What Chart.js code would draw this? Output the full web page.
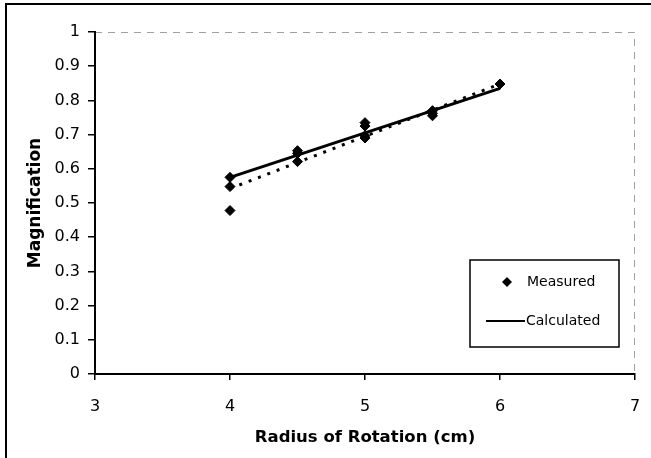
<!DOCTYPE html>
<html>
<head>
<meta charset="utf-8">
<script src="https://cdn.jsdelivr.net/npm/chart.js@4/dist/chart.umd.min.js"></script>
<style>
  html, body { margin: 0; padding: 0; background: #fff; }
  #wrap { width: 651px; height: 458px; position: relative; }
</style>
</head>
<body>
<div id="wrap"><canvas id="c" width="651" height="458"></canvas></div>
<script>
// Measured magnification at each radius of rotation (cm)
const measuredX = [4, 4, 4, 4.5, 4.5, 4.5, 5, 5, 5, 5, 5.5, 5.5, 5.5, 6];
const measuredY = [0.575, 0.548, 0.478, 0.653, 0.645, 0.621, 0.735, 0.725, 0.697, 0.69, 0.77, 0.762, 0.755, 0.848];

// Calculated magnification
const calcX = [4, 4.5, 5, 5.5, 6];
const calcY = [0.575, 0.64, 0.705, 0.77, 0.835];

// Linear fit through the measured points (end points)
const fitX = [4, 6];
const fitY = [0.542, 0.848];

// Axis ticks
const xTicks = [3, 4, 5, 6, 7];
const yTicks = ['0', '0.1', '0.2', '0.3', '0.4', '0.5', '0.6', '0.7', '0.8', '0.9', '1'];

const toPts = (xs, ys) => xs.map((x, i) => ({ x: x, y: ys[i] }));

const TICK_FONT = { family: 'DejaVu Sans', size: 16 };
const TITLE_FONT = { family: 'DejaVu Sans', size: 16.5, weight: 'bold' };

// Outer frame, dashed top/right plot edges and the boxed legend
const decor = {
  id: 'decor',
  beforeDraw(chart) {
    const ctx = chart.ctx;
    ctx.save();
    ctx.fillStyle = '#fff';
    ctx.fillRect(0, 0, chart.width, chart.height);
    ctx.strokeStyle = '#000';
    ctx.lineWidth = 2;
    ctx.beginPath();
    ctx.moveTo(6, chart.height);
    ctx.lineTo(6, 4);
    ctx.lineTo(chart.width, 4);
    ctx.stroke();
    const a = chart.chartArea;
    ctx.strokeStyle = '#a0a0a0';
    ctx.lineWidth = 1;
    ctx.setLineDash([7, 6]);
    ctx.beginPath();
    ctx.moveTo(a.left, a.top + 0.5);
    ctx.lineTo(a.right - 0.5, a.top + 0.5);
    ctx.lineTo(a.right - 0.5, a.bottom);
    ctx.stroke();
    ctx.restore();
  },
  afterDraw(chart) {
    const ctx = chart.ctx;
    const ds = chart.data.datasets;
    ctx.save();
    ctx.fillStyle = '#fff';
    ctx.fillRect(470, 260, 149, 87);
    ctx.strokeStyle = '#000';
    ctx.lineWidth = 1.5;
    ctx.strokeRect(470, 260, 149, 87);
    ctx.font = '14px "DejaVu Sans"';
    ctx.textBaseline = 'middle';
    ctx.fillStyle = '#000';
    // Measured entry: diamond marker
    const mx = 507, my = 282, r = 5;
    ctx.beginPath();
    ctx.moveTo(mx, my - r);
    ctx.lineTo(mx + r, my);
    ctx.lineTo(mx, my + r);
    ctx.lineTo(mx - r, my);
    ctx.closePath();
    ctx.fill();
    ctx.fillText(ds[0].label, 527, my);
    // Calculated entry: solid line
    ctx.lineWidth = 2;
    ctx.beginPath();
    ctx.moveTo(486, 321);
    ctx.lineTo(525, 321);
    ctx.stroke();
    ctx.fillText(ds[2].label, 526, 321);
    ctx.restore();
  }
};

new Chart(document.getElementById('c'), {
  type: 'scatter',
  data: {
    datasets: [
      {
        label: 'Measured',
        data: toPts(measuredX, measuredY),
        pointStyle: 'rectRot',
        pointRadius: 5,
        pointBackgroundColor: '#000',
        pointBorderColor: '#000',
        showLine: false,
        order: 0
      },
      {
        label: 'Linear (Measured)',
        type: 'line',
        data: toPts(fitX, fitY),
        borderColor: '#000',
        borderWidth: 3,
        borderDash: [3, 7],
        pointRadius: 0,
        fill: false,
        order: 1
      },
      {
        label: 'Calculated',
        type: 'line',
        data: toPts(calcX, calcY),
        borderColor: '#000',
        borderWidth: 3,
        pointRadius: 0,
        fill: false,
        tension: 0,
        order: 2
      }
    ]
  },
  options: {
    responsive: false,
    animation: false,
    layout: { autoPadding: false, padding: { top: 32, right: 16, left: 0, bottom: 0 } },
    plugins: { legend: { display: false }, tooltip: { enabled: false } },
    scales: {
      x: {
        type: 'linear',
        min: 3, max: 7,
        afterFit(scale) { scale.height = 84; scale.paddingLeft = 0; scale.paddingRight = 0; },
        afterBuildTicks(scale) { scale.ticks = xTicks.map(v => ({ value: v })); },
        ticks: { font: TICK_FONT, color: '#000', padding: 17, maxRotation: 0 },
        grid: { drawOnChartArea: false, drawTicks: true, tickLength: 6, color: '#000', lineWidth: 1.5 },
        border: { display: true, color: '#000', width: 2 },
        title: { display: true, text: 'Radius of Rotation (cm)', font: TITLE_FONT, color: '#000', padding: { top: 0, bottom: 10 } }
      },
      y: {
        type: 'linear',
        min: 0, max: 1,
        afterFit(scale) { scale.width = 95; scale.paddingTop = 0; scale.paddingBottom = 0; },
        afterBuildTicks(scale) { scale.ticks = yTicks.map(t => ({ value: parseFloat(t) })); },
        ticks: {
          font: TICK_FONT, color: '#000', padding: 8,
          callback: (v, i) => yTicks[i]
        },
        grid: { drawOnChartArea: false, drawTicks: true, tickLength: 7, color: '#000', lineWidth: 1.5 },
        border: { display: true, color: '#000', width: 2 },
        title: { display: true, text: 'Magnification', font: { family: 'DejaVu Sans', size: 17, weight: 'bold' }, color: '#000', padding: { top: 25, bottom: 0 } }
      }
    }
  },
  plugins: [decor]
});
</script>
</body>
</html>
